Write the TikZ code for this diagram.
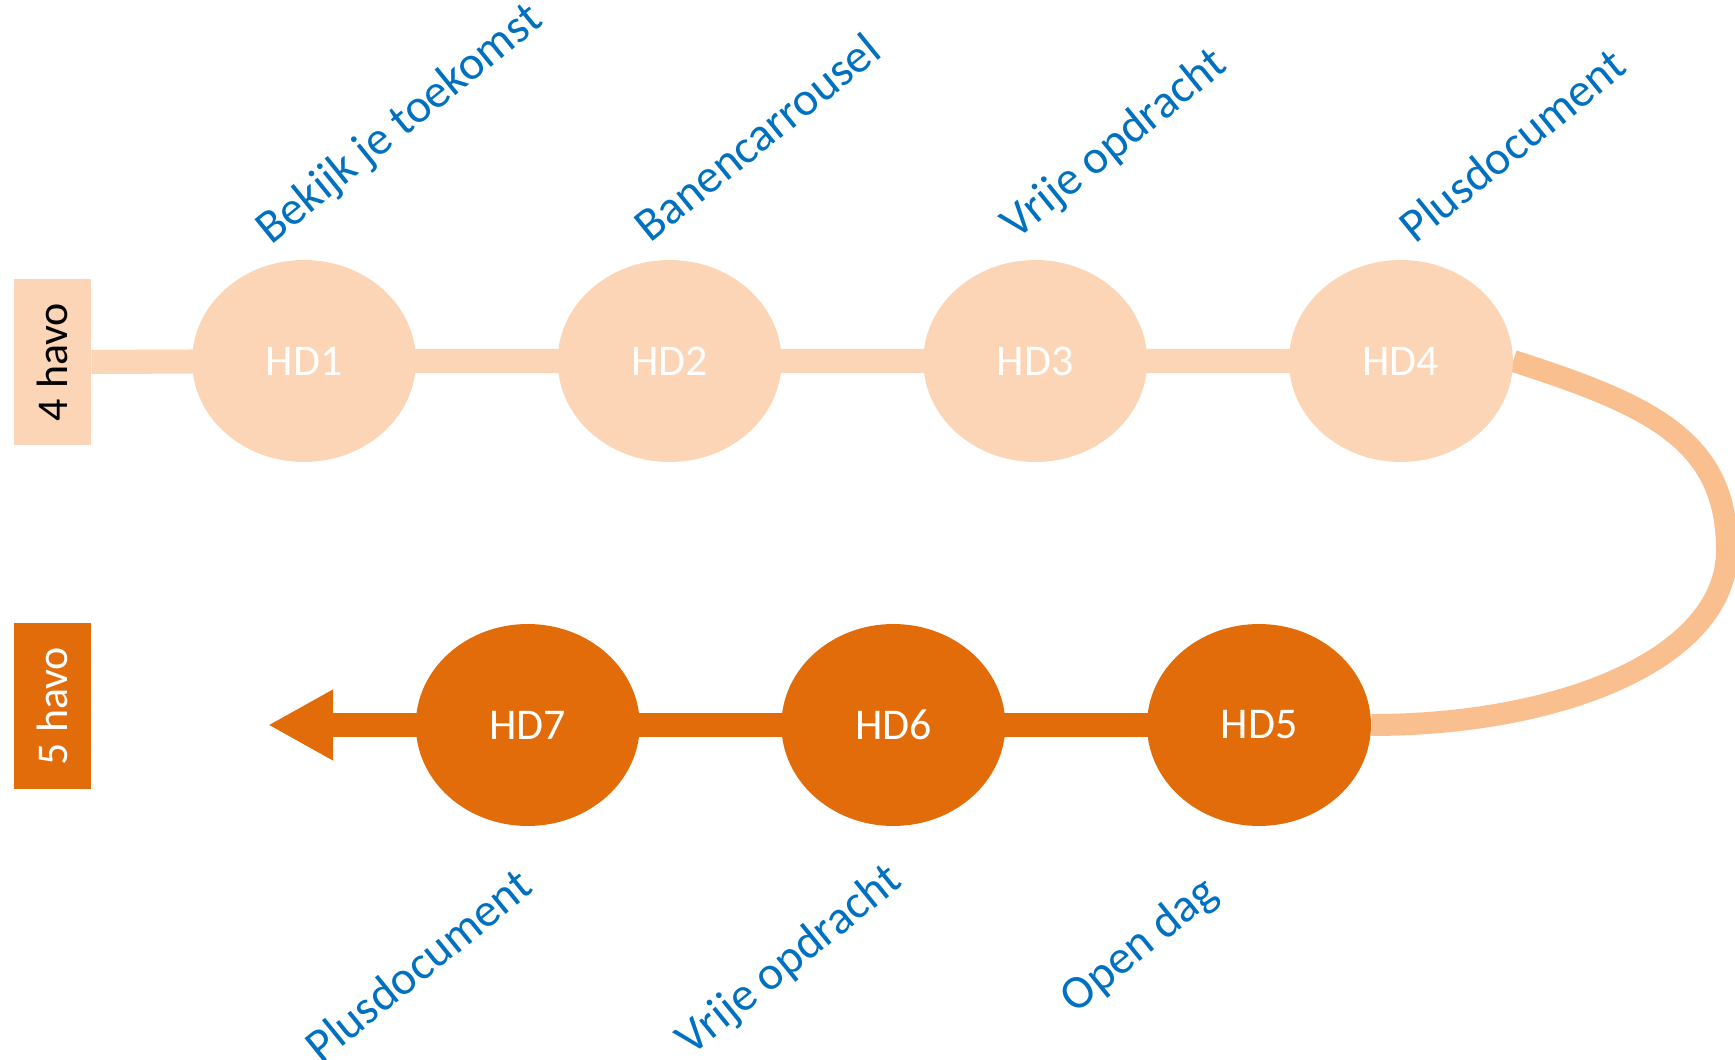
\documentclass[tikz,border=0pt]{standalone}
\usepackage{fontspec}
\setmainfont{Carlito}
\usetikzlibrary{positioning,arrows.meta,backgrounds,shapes.geometric}

\definecolor{peach}{HTML}{FBD5B5}
\definecolor{bendcol}{HTML}{F9BF8F}
\definecolor{darkorange}{HTML}{E36C0A}
\definecolor{tagblue}{HTML}{0070C0}

\begin{document}
\begin{tikzpicture}[x=0.02cm,y=0.02cm,
		  node distance=2.82cm,
		  hd/.style={ellipse, minimum width=4.48cm, minimum height=4.04cm, inner sep=0pt,
		  	text=white, font=\fontsize{25}{30}\selectfont},
		  year/.style={rectangle, rotate=90, minimum width=3.32cm, minimum height=1.54cm,
		  	inner sep=0pt, font=\fontsize{25}{30}\selectfont},
		  tag/.style={rotate=39, inner sep=0pt, text=tagblue, font=\fontsize{27}{32}\selectfont}]
		  \useasboundingbox (0,0) rectangle (1735,1059);
		  % jaarvakken
		  \node[year, fill=peach, text=black] (havo4) at (52.5,697) {4 havo};
		  \node[year, fill=darkorange, text=white] (havo5) at (52.5,353) {5 havo};
		  % bovenste rij
		  \node[hd, fill=peach] (hd1) at (304,698) {HD1};
		  \node[hd, fill=peach, right=of hd1] (hd2) {HD2};
		  \node[hd, fill=peach, right=of hd2] (hd3) {HD3};
		  \node[hd, fill=peach, right=of hd3] (hd4) {HD4};
		  % onderste rij
		  \node[hd, fill=darkorange] (hd5) at (1259,334) {HD5};
		  \node[hd, fill=darkorange, left=of hd5] (hd6) {HD6};
		  \node[hd, fill=darkorange, left=of hd6] (hd7) {HD7};
		  \coordinate (end) at (268,334);
		  % lijnen
		  \begin{scope}[on background layer]
		  	\draw[peach, line width=13.7pt] (havo4.south) -- (hd1.center) -- (hd2.center)
		  		-- (hd3.center) -- (hd4.center);
		  	\draw[bendcol, line width=12.5pt] (hd4.east) .. controls (1650,654) and (1727,619) .. (1727,509)
		  		.. controls (1727,400) and (1560,334) .. (hd5.east);
		  	\draw[darkorange, line width=13.2pt, -{Triangle[length=37pt,width=37.6pt]}]
		  		(hd5.center) -- (hd6.center) -- (hd7.center) -- (end);
		  \end{scope}
		  % onderwerpen
		  \node[tag] (t1) at (400,934) {Bekijk je toekomst};
		  \node[tag] (t2) at (757,922) {Banencarrousel};
		  \node[tag] (t3) at (1115,914) {Vrije opdracht};
		  \node[tag] (t4) at (1512,914) {Plusdocument};
		  \node[tag] (t7) at (418,94) {Plusdocument};
		  \node[tag] (t6) at (790,98) {Vrije opdracht};
		  \node[tag] (t5) at (1140,113) {Open dag};
		\end{tikzpicture}
\end{document}
